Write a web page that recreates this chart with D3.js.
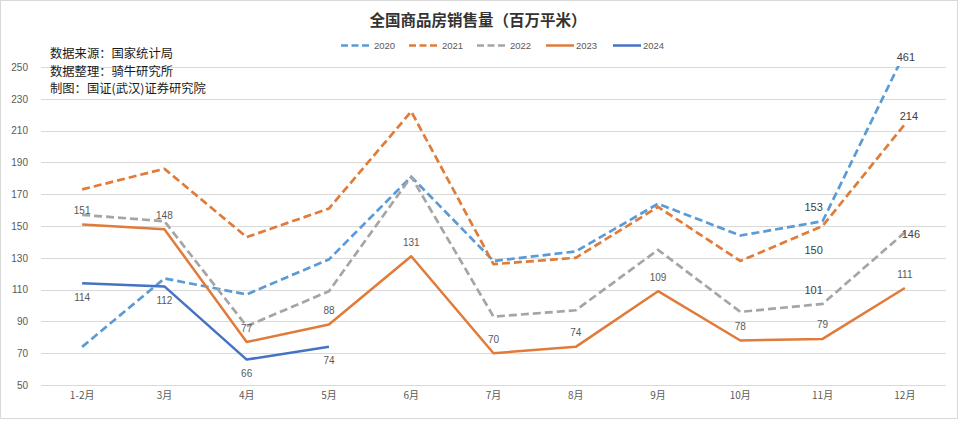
<!DOCTYPE html>
<html><head><meta charset="utf-8">
<script src="https://cdn.jsdelivr.net/npm/d3@7"></script>
<style>body{margin:0;background:#fff}svg{display:block}</style>
</head><body>
<svg id="c" width="960" height="421"></svg>
<script>
const title = "全国商品房销售量（百万平米）";
const notes = ["数据来源：国家统计局", "数据整理：骑牛研究所", "制图：国证(武汉)证券研究院"];
const categories = ["1-2月","3月","4月","5月","6月","7月","8月","9月","10月","11月","12月"];
const seriesNames = ["2020","2021","2022","2023","2024"];
const s2020 = [74,117,107,129,181,128,134,164,144,153,259];
const s2021 = [173,186,143,161,222,126,130,162,128,150,214];
const s2022 = [157,153,87,109,181,93,97,135,96,101,146];
const s2023 = [151,148,77,88,131,70,74,109,78,79,111];
const s2024 = [114,112,66,74];
const yTicks = [50,70,90,110,130,150,170,190,210,230,250];
// displayed data labels (null = no label)
const lab2020 = [null,null,null,null,null,null,null,null,null,"153","461"];
const lab2021 = [null,null,null,null,null,null,null,null,null,"150","214"];
const lab2022 = [null,null,null,null,null,null,null,null,null,"101","146"];
const lab2023 = ["151","148","77","88","131","70","74","109","78","79","111"];
const lab2024 = ["114","112","66","74"];

const svg = d3.select("#c");
const W = 960, H = 421;
const CJK = "'Noto Sans CJK SC','Noto Sans',sans-serif";
const NUM = "'Liberation Sans','DejaVu Sans',sans-serif";

svg.append("rect").attr("x",0.5).attr("y",0.5).attr("width",W-3).attr("height",H-3)
  .attr("fill","#fff").attr("stroke","#d9d9d9");

const x = d3.scaleBand().domain(categories).range([41, 946]).paddingInner(0).paddingOuter(0);
const cx = c => x(c) + x.bandwidth()/2;
const y = d3.scaleLinear().domain([50, 250]).range([385, 67]);

// gridlines
svg.append("g").selectAll("line").data(yTicks).join("line")
  .attr("x1", 41).attr("x2", 946)
  .attr("y1", d => Math.round(y(d))+0.5).attr("y2", d => Math.round(y(d))+0.5)
  .attr("stroke", "#d9d9d9").attr("stroke-width", 1);

// y axis labels
const yAxis = svg.append("g").attr("transform","translate(28,0)")
  .call(d3.axisLeft(y).tickValues(yTicks).tickSize(0).tickPadding(0));
yAxis.select(".domain").remove();
yAxis.selectAll("text").attr("font-family", NUM).attr("font-size", 10).attr("fill", "#595959");

// x axis labels
const xAxis = svg.append("g").attr("transform","translate(0,392)")
  .call(d3.axisBottom(x).tickSize(0).tickPadding(0));
xAxis.select(".domain").remove();
xAxis.selectAll("text").attr("font-family", CJK).attr("font-size", 10).attr("fill", "#595959");

// title
svg.append("text").attr("x", 478).attr("y", 19).attr("text-anchor","middle")
  .attr("dominant-baseline","central")
  .attr("font-family", CJK).attr("font-weight", "bold").attr("font-size", 15.5)
  .attr("fill", "#333").text(title);

// notes
svg.append("g").selectAll("text").data(notes).join("text")
  .attr("x", 50).attr("y", (d,i) => 53 + i*17.7).attr("dominant-baseline","central")
  .attr("font-family", CJK).attr("font-size", 12.3).attr("fill", "#1a1a1a").text(d => d);

const series = [
  {name:"2020", data:s2020, color:"#5B9BD5", dash:"8,4", labels:lab2020},
  {name:"2021", data:s2021, color:"#E07B39", dash:"8,4", labels:lab2021},
  {name:"2022", data:s2022, color:"#A5A5A5", dash:"8,4", labels:lab2022},
  {name:"2023", data:s2023, color:"#E07B39", dash:null, labels:lab2023},
  {name:"2024", data:s2024, color:"#4472C4", dash:null, labels:lab2024}
];

// legend
const legX = [341, 409, 477, 546, 613];
const lg = svg.append("g");
series.forEach((s,i) => {
  lg.append("line").attr("x1", legX[i]).attr("x2", legX[i]+28).attr("y1", 45.5).attr("y2", 45.5)
    .attr("stroke", s.color).attr("stroke-width", 2.5).attr("stroke-dasharray", s.dash ? "7,3.5" : null);
  lg.append("text").attr("x", legX[i]+ (s.dash ? 33 : 30)).attr("y", 45.5).attr("dominant-baseline","central")
    .attr("font-family", NUM).attr("font-size", 9.5).attr("fill", "#595959").text(s.name);
});

// clip
svg.append("clipPath").attr("id","plot").append("rect")
  .attr("x", 0).attr("y", 66).attr("width", W).attr("height", 340);

const line = d3.line().x((d,i) => cx(categories[i])).y(d => y(d));
const lines = svg.append("g").attr("clip-path","url(#plot)");
series.forEach(s => {
  lines.append("path").datum(s.data).attr("d", line)
    .attr("fill","none").attr("stroke", s.color).attr("stroke-width", s.dash ? 2.7 : 2.5)
    .attr("stroke-linejoin","round")
    .attr("stroke-dasharray", s.dash);
});

// data labels
const lblG = svg.append("g");
// 2023 above, 2024 below
[[3,-14],[4,14]].forEach(([si,dy]) => {
  const s = series[si];
  s.labels.forEach((t,i) => {
    if (t == null) return;
    lblG.append("text").attr("x", cx(categories[i])).attr("y", y(s.data[i]) + dy)
      .attr("text-anchor","middle").attr("dominant-baseline","central")
      .attr("font-family", NUM).attr("font-size", 10).attr("fill", "#595959").text(t);
  });
});
// 11月 / 12月 labels for 2020-2022
const offsets = {
  "0-9":[-9,-14], "0-10":[1,null],
  "1-9":[-9,24], "1-10":[4,-8],
  "2-9":[-9,-14], "2-10":[6,2]
};
[0,1,2].forEach(si => {
  const s = series[si];
  s.labels.forEach((t,i) => {
    if (t == null) return;
    const o = offsets[si+"-"+i];
    const yy = o[1] == null ? y(250) - 10 : y(s.data[i]) + o[1];
    lblG.append("text").attr("x", cx(categories[i]) + o[0]).attr("y", yy)
      .attr("text-anchor","middle").attr("dominant-baseline","central")
      .attr("font-family", NUM).attr("font-size", 11).attr("fill", "#404040").text(t);
  });
});
</script>
</body></html>
